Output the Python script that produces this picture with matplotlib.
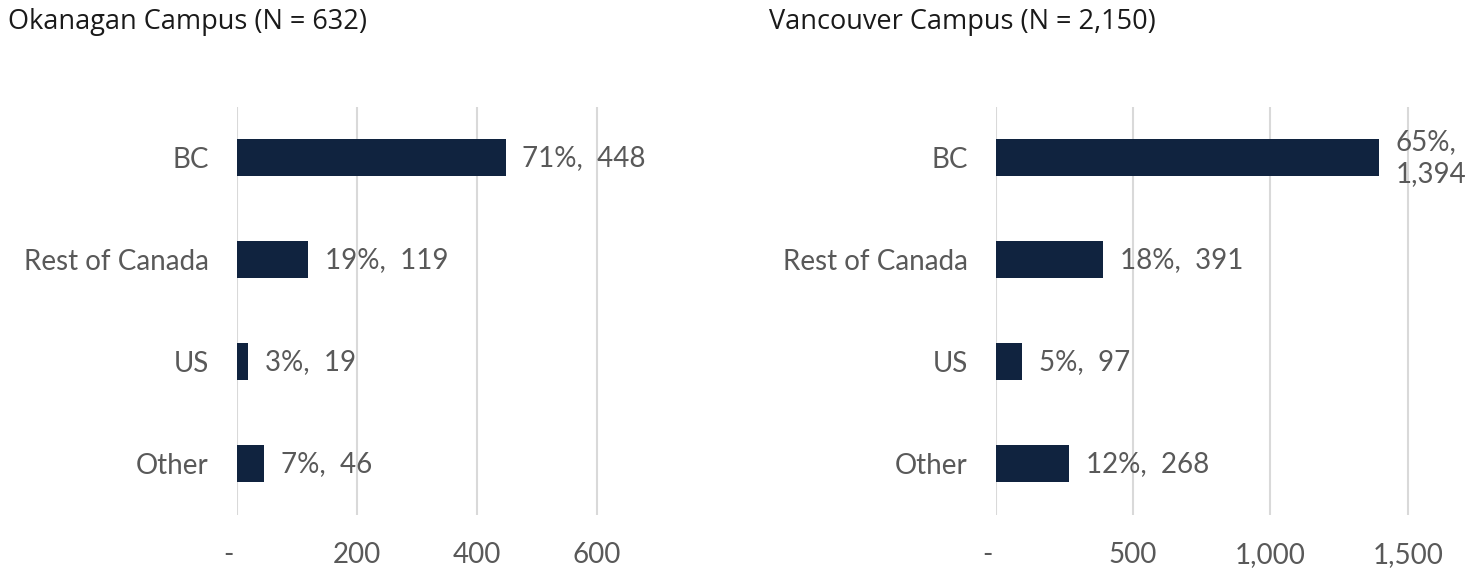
import matplotlib.pyplot as plt
from matplotlib.ticker import FuncFormatter

categories = ['BC', 'Rest of Canada', 'US', 'Other']
okanagan_counts = [448, 119, 19, 46]
okanagan_pct = [71, 19, 3, 7]
vancouver_counts = [1394, 391, 97, 268]
vancouver_pct = [65, 18, 5, 12]
okanagan_ticks = [0, 200, 400, 600]
vancouver_ticks = [0, 500, 1000, 1500]

bar_color = '#10233f'
text_gray = '#595959'
grid_gray = '#d9d9d9'
lab_font = 'Lato'

W, H = 1476, 569
fig = plt.figure(figsize=(W / 100, H / 100), dpi=100)


def px_axes(x0, y_top, width, height):
    return fig.add_axes([x0 / W, (H - y_top - height) / H, width / W, height / H])


def fmt(v, pos):
    # accounting style: zero shown as a dash, slightly left of the gridline
    return '-  ' if v == 0 else '{:,.0f}'.format(v)


def panel(ax, counts, pcts, ticks, xmax, wrap_first=False):
    y = list(range(len(categories)))
    ax.barh(y, counts, height=0.36, color=bar_color, zorder=3)
    ax.set_ylim(3.5, -0.5)
    ax.set_xlim(0, xmax)
    ax.set_xticks(ticks)
    ax.xaxis.set_major_formatter(FuncFormatter(fmt))
    ax.set_yticks(y)
    ax.set_yticklabels(categories)
    ax.grid(axis='x', color=grid_gray, linewidth=1.5, zorder=0)
    ax.tick_params(axis='both', length=0, labelsize=20, labelcolor=text_gray)
    ax.tick_params(axis='y', pad=20)
    ax.tick_params(axis='x', pad=20)
    for lab in ax.get_xticklabels() + ax.get_yticklabels():
        lab.set_fontfamily(lab_font)
    for s in ax.spines.values():
        s.set_visible(False)
    for i, (c, p) in enumerate(zip(counts, pcts)):
        sep = ',\n' if (wrap_first and i == 0) else ',  '
        ax.annotate('{}%{}{:,}'.format(p, sep, c), xy=(c, i), xytext=(12, 0),
                    textcoords='offset points', ha='left', va='center',
                    fontsize=20, color=text_gray, family=lab_font,
                    linespacing=1.3, annotation_clip=False)


ax1 = px_axes(236.7, 106.7, 0.6 * 700, 408)
panel(ax1, okanagan_counts, okanagan_pct, okanagan_ticks, 700)

ax2 = px_axes(995.7, 106.7, 412.0 / 1500 * 1650, 408)
panel(ax2, vancouver_counts, vancouver_pct, vancouver_ticks, 1650, wrap_first=True)

fig.text(8 / W, 1 - 8 / H, 'Okanagan Campus (N = 632)', ha='left', va='top',
         fontsize=19.5, color='#1a1a1a', family='Open Sans')
fig.text(769 / W, 1 - 8 / H, 'Vancouver Campus (N = 2,150)', ha='left', va='top',
         fontsize=19.5, color='#1a1a1a', family='Open Sans')

fig.savefig('out.png', dpi=100)
